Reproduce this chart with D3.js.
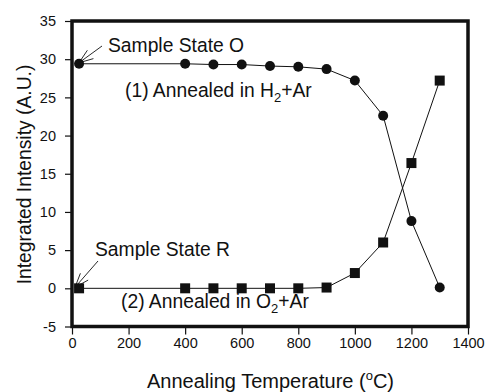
<!DOCTYPE html>
<html><head><meta charset="utf-8">
<script src="https://cdn.jsdelivr.net/npm/d3@7"></script>
<style>body{margin:0;background:#fff}svg{display:block}text{font-family:"Liberation Sans",Arial,sans-serif;fill:#111}</style>
</head><body>
<svg id="c" width="485" height="392"></svg>
<script>
const temps = [25, 400, 500, 600, 700, 800, 900, 1000, 1100, 1200, 1300];
const h2Ar = [29.4, 29.4, 29.3, 29.3, 29.1, 29.0, 28.7, 27.2, 22.6, 8.8, 0.1];
const o2Ar = [0, 0, 0, 0, 0, 0, 0.1, 2.0, 6.0, 16.4, 27.2];
const xTicks = [0, 200, 400, 600, 800, 1000, 1200, 1400];
const yTicks = [-5, 0, 5, 10, 15, 20, 25, 30, 35];

const svg = d3.select("#c");
const L = 72, R = 468, T = 21, B = 326.5;
const x = d3.scaleLinear().domain([0, 1400]).range([L, R]);
const y = d3.scaleLinear().domain([-5, 35]).range([B, T]);
const fmt = v => String(v);

// axes
const ya = svg.append("g").attr("transform", `translate(${L},0)`)
  .call(d3.axisLeft(y).tickValues(yTicks).tickFormat(fmt).tickSize(7).tickPadding(9).tickSizeOuter(0));
const xa = svg.append("g").attr("transform", `translate(0,${B})`)
  .call(d3.axisBottom(x).tickValues(xTicks).tickFormat(fmt).tickSize(8).tickPadding(3).tickSizeOuter(0));
[ya, xa].forEach(a => {
  a.select(".domain").remove();
  a.selectAll(".tick line").attr("stroke", "#111").attr("stroke-width", 1.2);
  a.selectAll(".tick text").style("font-size", "14.5px").attr("fill", "#111");
});

// series lines
const line = d3.line().x((d, i) => x(temps[i])).y(d => y(d));
svg.append("path").attr("d", line(h2Ar)).attr("fill", "none").attr("stroke", "#111").attr("stroke-width", 1);
svg.append("path").attr("d", line(o2Ar)).attr("fill", "none").attr("stroke", "#111").attr("stroke-width", 1);

// frame
svg.append("rect").attr("x", L).attr("y", T).attr("width", R - L).attr("height", B - T)
  .attr("fill", "none").attr("stroke", "#111").attr("stroke-width", 3.5);

// markers
svg.selectAll("circle.h").data(h2Ar).join("circle").attr("class", "h")
  .attr("cx", (d, i) => x(temps[i])).attr("cy", d => y(d)).attr("r", 5).attr("fill", "#111");
svg.selectAll("rect.o").data(o2Ar).join("rect").attr("class", "o")
  .attr("x", (d, i) => x(temps[i]) - 5).attr("y", d => y(d) - 5).attr("width", 10).attr("height", 10).attr("fill", "#111");

// annotations
function arrow(x1, y1, x2, y2) {
  const g = svg.append("g").attr("stroke", "#111").attr("stroke-width", 0.9);
  g.append("line").attr("x1", x1).attr("y1", y1).attr("x2", x2).attr("y2", y2);
  const ang = Math.atan2(y1 - y2, x1 - x2);
  [-0.35, 0.35].forEach(da => {
    g.append("line").attr("x1", x2).attr("y1", y2)
      .attr("x2", x2 + 15 * Math.cos(ang + da)).attr("y2", y2 + 15 * Math.sin(ang + da));
  });
}
arrow(102, 46, 79, y(h2Ar[0]) - 1);
arrow(98, 261, 75, y(o2Ar[0]) - 1);

const fs = "19.3px";
svg.append("text").attr("x", 108).attr("y", 52).style("font-size", fs).text("Sample State O");
svg.append("text").attr("x", 95).attr("y", 256).style("font-size", fs).text("Sample State R");
function ann(xp, yp, a, sub, b) {
  const t = svg.append("text").attr("x", xp).attr("y", yp).style("font-size", fs);
  t.append("tspan").text(a);
  t.append("tspan").attr("dy", 5).style("font-size", "13px").text(sub);
  t.append("tspan").attr("dy", -5).text(b);
}
ann(125, 97, "(1) Annealed in H", "2", "+Ar");
ann(121, 308, "(2) Annealed in O", "2", "+Ar");

// axis titles
svg.append("text").attr("transform", `translate(31,174.5) rotate(-90)`)
  .attr("text-anchor", "middle").style("font-size", fs).text("Integrated Intensity (A.U.)");
const xt = svg.append("text").attr("x", 270.5).attr("y", 388).attr("text-anchor", "middle").style("font-size", "20px");
xt.append("tspan").text("Annealing Temperature (");
xt.append("tspan").attr("dy", -8).style("font-size", "13px").text("o");
xt.append("tspan").attr("dy", 8).text("C)");
</script>
</body></html>
